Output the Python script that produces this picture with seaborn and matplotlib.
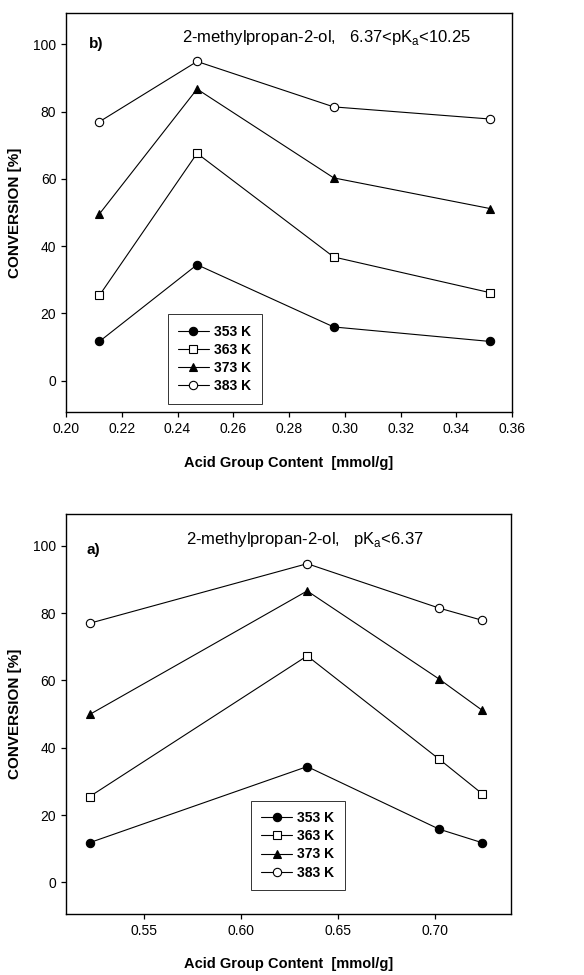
import numpy as np
import pandas as pd
import matplotlib
matplotlib.use('Agg')
import matplotlib.pyplot as plt
import seaborn as sns

# dados
temperaturas = ['353 K', '363 K', '373 K', '383 K']
acid_b = [0.212, 0.247, 0.296, 0.352]
acid_a = [0.522, 0.634, 0.702, 0.724]
conv_b = {
    '353 K': [11.7, 34.5, 16.0, 11.7],
    '363 K': [25.4, 67.6, 36.8, 26.2],
    '373 K': [49.6, 86.7, 60.3, 51.2],
    '383 K': [77.0, 94.9, 81.4, 77.8],
}
conv_a = {
    '353 K': [11.8, 34.4, 15.8, 11.8],
    '363 K': [25.5, 67.3, 36.6, 26.4],
    '373 K': [49.9, 86.6, 60.4, 51.2],
    '383 K': [77.0, 94.7, 81.5, 77.9],
}
yticks = [0, 20, 40, 60, 80, 100]
xticks_b = [0.20, 0.22, 0.24, 0.26, 0.28, 0.30, 0.32, 0.34, 0.36]
xticks_a = [0.55, 0.60, 0.65, 0.70]

sns.set_style('ticks')
plt.rcParams['font.family'] = ['Liberation Sans', 'DejaVu Sans']
plt.rcParams['text.color'] = 'black'
plt.rcParams['axes.labelcolor'] = 'black'
plt.rcParams['xtick.color'] = 'black'
plt.rcParams['ytick.color'] = 'black'

estilos = {
    '353 K': dict(marker='o', markerfacecolor='black'),
    '363 K': dict(marker='s', markerfacecolor='white'),
    '373 K': dict(marker='^', markerfacecolor='black'),
    '383 K': dict(marker='o', markerfacecolor='white'),
}


def painel(ax, acid, conv, xlim, xticks, letra, titulo, pos_letra, pos_titulo, leg_pos):
    for t in temperaturas:
        df = pd.DataFrame({'acid': acid, 'conv': conv[t]})
        sns.lineplot(data=df, x='acid', y='conv', ax=ax, color='black', linewidth=0.8,
                     markersize=6, markeredgecolor='black', markeredgewidth=0.8,
                     label=t, **estilos[t])
    ax.set_xlim(*xlim)
    ax.set_ylim(-9.4, 109.4)
    ax.set_xticks(xticks)
    ax.set_xticklabels([f'{v:.2f}' for v in xticks])
    ax.set_yticks(yticks)
    ax.tick_params(direction='out', length=3.5, width=0.9, labelsize=10)
    for s in ax.spines.values():
        s.set_linewidth(1.0)
        s.set_color('black')
    ax.set_xlabel('Acid Group Content  [mmol/g]', fontsize=10.5, fontweight='bold', labelpad=14)
    ax.set_ylabel('CONVERSION [%]', fontsize=11, fontweight='bold', labelpad=8)
    ax.text(pos_letra[0], pos_letra[1], letra, fontsize=11, fontweight='bold', va='center')
    ax.text(pos_titulo[0], pos_titulo[1], titulo, fontsize=12, va='center', ha='center')
    leg = ax.legend(loc='lower left', bbox_to_anchor=leg_pos, frameon=True, fancybox=False,
                    edgecolor='black', prop={'weight': 'bold', 'size': 10},
                    handlelength=2.2, borderpad=0.75, labelspacing=0.3, handletextpad=0.4,
                    borderaxespad=0)
    leg.get_frame().set_linewidth(0.7)


fig = plt.figure(figsize=(5.84, 9.75), dpi=100)
ax_b = fig.add_axes([0.113, 0.577, 0.764, 0.410])
ax_a = fig.add_axes([0.1125, 0.0626, 0.7625, 0.410])

painel(ax_b, acid_b, conv_b, (0.20, 0.36), xticks_b, 'b)',
       r'2-methylpropan-2-ol,   6.37<pK$_\mathregular{a}$<10.25',
       (0.2084, 100), (0.2936, 101.9), (0.228, 0.022))
painel(ax_a, acid_a, conv_a, (0.5096, 0.739), xticks_a, 'a)',
       r'2-methylpropan-2-ol,   pK$_\mathregular{a}$<6.37',
       (0.5205, 98.8), (0.633, 101.8), (0.416, 0.06))

fig.savefig('out.png', dpi=100)
